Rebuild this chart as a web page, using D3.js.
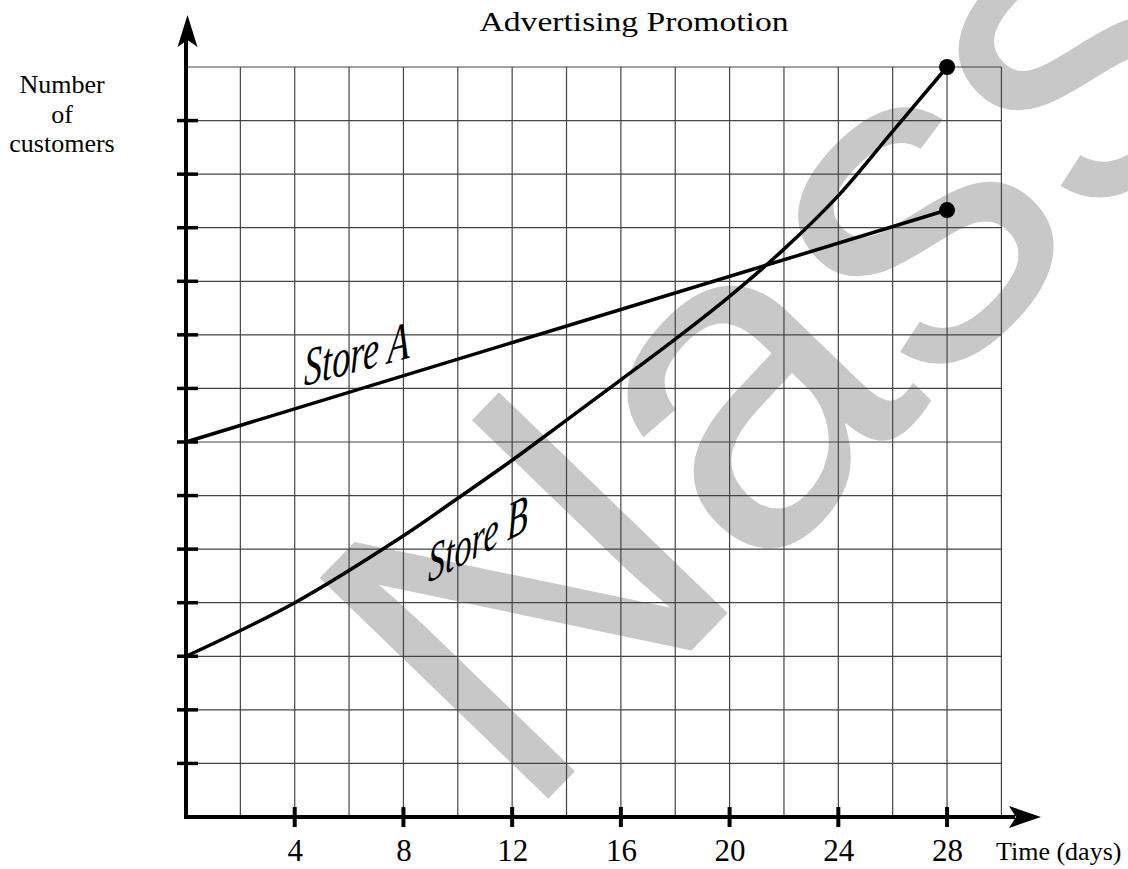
<!DOCTYPE html>
<html>
<head>
<meta charset="utf-8">
<script src="https://cdn.jsdelivr.net/npm/d3@7"></script>
<style>
  html, body { margin: 0; padding: 0; background: #fff; }
  svg { display: block; }
</style>
</head>
<body>
<svg id="chart" width="1128" height="869"></svg>
<script>
// ---- data ----
const title = "Advertising Promotion";
const yLabelLines = ["Number", "of", "customers"];
const xLabel = "Time (days)";
const xTickValues = [4, 8, 12, 16, 20, 24, 28];
const xGridValues = [2, 4, 6, 8, 10, 12, 14, 16, 18, 20, 22, 24, 26, 28, 30];
const yGridValues = [1, 2, 3, 4, 5, 6, 7, 8, 9, 10, 11, 12, 13, 14];
const yTickValues = [1, 2, 3, 4, 5, 6, 7, 8, 9, 10, 11, 12, 13];
const storeADays = [0, 28];
const storeAValues = [7, 11.33];
const storeBDays = [0, 4, 8, 10, 12, 14, 16, 18, 20, 22, 24, 26, 28];
const storeBValues = [3, 4.0, 5.25, 5.95, 6.66, 7.41, 8.16, 8.92, 9.72, 10.6, 11.6, 12.8, 14];
const watermark = "Nass";

// ---- layout ----
const svg = d3.select("#chart");
const x = d3.scaleLinear().domain([0, 30]).range([186, 1001.4]);
const y = d3.scaleLinear().domain([0, 14]).range([817, 67]);
const serif = "'Liberation Serif', 'Times New Roman', serif";

// watermark (behind everything)
svg.append("text")
  .attr("transform", "translate(522,826) rotate(-46)")
  .attr("font-family", "'Liberation Sans', Arial, sans-serif")
  .attr("font-size", 462)
  .attr("fill", "#c8c8c8")
  .text(watermark);

// grid
const grid = svg.append("g").attr("stroke", "#444").attr("stroke-width", 1.2);
grid.selectAll("line.v").data(xGridValues).join("line")
  .attr("x1", d => x(d)).attr("x2", d => x(d))
  .attr("y1", y(0)).attr("y2", y(14));
grid.selectAll("line.h").data(yGridValues).join("line")
  .attr("x1", x(0)).attr("x2", x(30))
  .attr("y1", d => y(d)).attr("y2", d => y(d));

// axes lines
const axis = svg.append("g").attr("stroke", "#000");
const ax0 = x(0), ay0 = y(0);
axis.append("line").attr("x1", ax0 - 2).attr("x2", 1015).attr("y1", ay0).attr("y2", ay0).attr("stroke-width", 4);
axis.append("line").attr("x1", ax0).attr("x2", ax0).attr("y1", ay0 + 2).attr("y2", 40).attr("stroke-width", 4);
// arrowheads
svg.append("path").attr("fill", "#000")
  .attr("d", `M${ax0 + 1.5},15 L${ax0 + 11.5},47 L${ax0 + 1.5},40 L${ax0 - 8.5},47 Z`);
svg.append("path").attr("fill", "#000")
  .attr("d", `M1041,${ay0} L1009,${ay0 - 11} L1016,${ay0} L1009,${ay0 + 11} Z`);

// ticks crossing axes
axis.selectAll("line.yt").data(yTickValues).join("line")
  .attr("x1", ax0 - 9).attr("x2", ax0 + 12)
  .attr("y1", d => y(d)).attr("y2", d => y(d))
  .attr("stroke-width", 3.5);
axis.selectAll("line.xt").data(xTickValues).join("line")
  .attr("x1", d => x(d)).attr("x2", d => x(d))
  .attr("y1", ay0 - 10).attr("y2", ay0 + 10)
  .attr("stroke-width", 4);

// x tick labels via d3 axis
const xAxis = d3.axisBottom(x).tickValues(xTickValues).tickSize(0).tickPadding(0).tickFormat(d3.format("d"));
const gx = svg.append("g").attr("transform", `translate(0,${ay0})`).call(xAxis);
gx.select(".domain").remove();
gx.selectAll("text")
  .attr("dy", null).attr("y", 44)
  .attr("font-family", serif)
  .attr("font-size", 31).attr("fill", "#000");

// lines
const line = d3.line().x(d => x(d[0])).y(d => y(d[1]));
const aPts = storeADays.map((d, i) => [d, storeAValues[i]]);
const bPts = storeBDays.map((d, i) => [d, storeBValues[i]]);
svg.append("path").attr("d", line(aPts)).attr("fill", "none").attr("stroke", "#000").attr("stroke-width", 3.5);
svg.append("path").attr("d", line.curve(d3.curveCatmullRom.alpha(0.5))(bPts))
  .attr("fill", "none").attr("stroke", "#000").attr("stroke-width", 3.5);
svg.append("circle").attr("cx", x(storeADays[1])).attr("cy", y(storeAValues[1])).attr("r", 8).attr("fill", "#000");
svg.append("circle").attr("cx", x(storeBDays[storeBDays.length - 1])).attr("cy", y(storeBValues[storeBValues.length - 1])).attr("r", 8).attr("fill", "#000");

// series labels
svg.append("text").attr("transform", "translate(304,386) skewY(-15) scale(0.67,1)")
  .attr("font-family", serif).attr("font-style", "italic").attr("font-size", 54).text("Store A");
svg.append("text").attr("transform", "translate(428,583) skewY(-28) scale(0.63,1)")
  .attr("font-family", serif).attr("font-style", "italic").attr("font-size", 54).text("Store B");

// titles
svg.append("text").attr("x", 634).attr("y", 31).attr("text-anchor", "middle")
  .attr("font-family", serif).attr("font-size", 28).attr("textLength", 309).attr("lengthAdjust", "spacingAndGlyphs")
  .text(title);
svg.append("g").selectAll("text").data(yLabelLines).join("text")
  .attr("x", 62).attr("y", (d, i) => 93 + i * 29.5).attr("text-anchor", "middle")
  .attr("font-family", serif).attr("font-size", 26).text(d => d);
svg.append("text").attr("x", 996).attr("y", 860)
  .attr("font-family", serif).attr("font-size", 26).text(xLabel);
</script>
</body>
</html>
